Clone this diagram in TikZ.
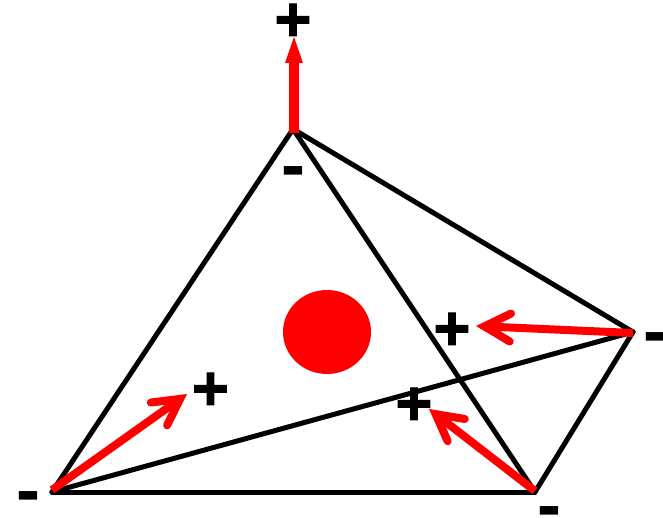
\documentclass[tikz,border=0pt]{standalone}
\usepackage{fontspec}
\setmainfont{Liberation Sans}
\newfontfamily\signfont[FakeBold=1.6]{Liberation Sans Bold}
\newcommand{\plussign}{\raisebox{-.33em}[.28em][.28em]{+}}
\newcommand{\minussign}{\raisebox{-.27em}[.06em][.06em]{-}}
\usetikzlibrary{arrows.meta}
\tikzset{
  edge/.style={draw=black,line width=5pt,line cap=round},
  signplus/.style={inner sep=0pt,font=\fontsize{63pt}{63pt}\signfont,text=black,anchor=center},
  signminus/.style={inner sep=0pt,font=\fontsize{72pt}{72pt}\setmainfont{Liberation Sans}\bfseries,text=black,anchor=center},
  field/.style={draw=red,line width=8pt,-{Straight Barb[length=26pt,width=28pt,line cap=round,line join=miter]}},
  normalarrow/.style={draw=red,line width=10pt,-{Triangle[length=26pt,width=18pt,line width=0pt]}},
}
\begin{document}
\begin{tikzpicture}[x=1pt,y=-1pt]
\useasboundingbox (0,0) rectangle (663,518);
\coordinate (T) at (293,129);
\coordinate (L) at (52,492);
\coordinate (B) at (535,492);
\coordinate (R) at (633,332);
\coordinate (Ts) at (294,133);
\coordinate (Te) at (294,37);
\coordinate (Ls) at (52,490);
\coordinate (Le) at (187,394);
\coordinate (Rs) at (633,333);
\coordinate (Re) at (476,326);
\coordinate (Bs) at (535,491);
\coordinate (Be) at (429,409);
\draw[edge] (T) -- (L);
\draw[edge] (T) -- (B);
\draw[edge] (T) -- (R);
\draw[edge] (L) -- (R);
\draw[edge] (L) -- (B);
\draw[edge] (B) -- (R);
\fill[red] (327,332) ellipse [x radius=44,y radius=42];
\draw[normalarrow] (Ts) -- (Te);
\draw[field] (Ls) -- (Le);
\draw[field] (Rs) -- (Re);
\draw[field] (Bs) -- (Be);
\node[signplus] (p1) at (293,20) {\plussign};
\node[signplus] (p2) at (452,329) {\plussign};
\node[signplus] (p3) at (414,404) {\plussign};
\node[signplus] (p4) at (210.5,389) {\plussign};
\node[signminus] (m1) at (293,170) {\minussign};
\node[signminus] (m2) at (655,336) {\minussign};
\node[signminus] (m3) at (549.5,510.5) {\minussign};
\node[signminus] (m4) at (28,495.5) {\minussign};
\end{tikzpicture}
\end{document}
